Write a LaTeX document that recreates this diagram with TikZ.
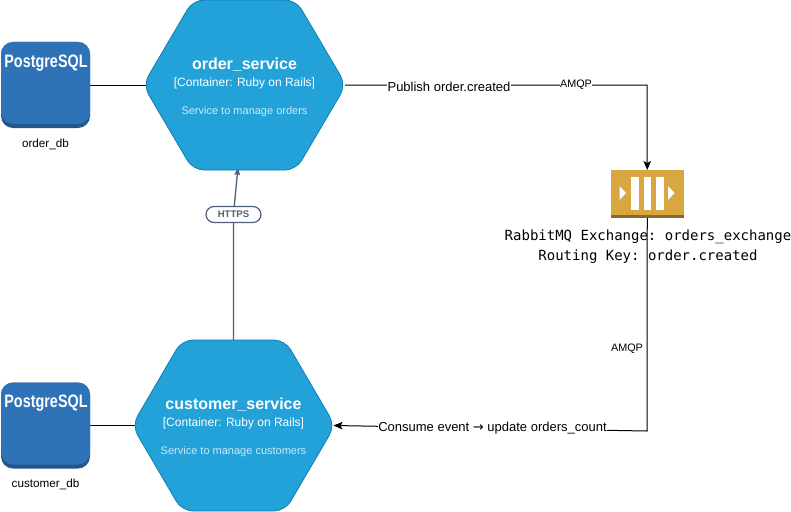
\documentclass[tikz,border=0pt]{standalone}
\usepackage{fontspec}
\setmainfont{Liberation Sans}
\setmonofont{DejaVu Sans Mono}
\newfontfamily\arrowfont{DejaVu Sans}
\usetikzlibrary{arrows.meta}
\definecolor{hexfill}{HTML}{23A2D9}
\definecolor{hexline}{HTML}{0E7DAD}
\definecolor{pgblue}{HTML}{2E73B8}
\definecolor{pgdark}{HTML}{23568A}
\definecolor{qgold}{HTML}{D9A741}
\definecolor{qdark}{HTML}{876929}
\definecolor{qbar}{HTML}{FFFFFF}
\definecolor{slateline}{HTML}{4D5F7A}
\definecolor{desctext}{HTML}{CCE8F5}
\tikzset{
  x=1pt,y=-1pt,
  hexanchor/.style={minimum width=197pt,minimum height=170pt,inner sep=0pt,outer sep=0pt},
  hexshape/.style={fill=hexfill,draw=hexline,line width=.8pt,rounded corners=11pt},
  hextitle/.style={text=white,font=\fontsize{16}{18}\selectfont\bfseries,inner sep=0pt},
  hexsub/.style={text=white,font=\fontsize{12}{14}\selectfont,inner sep=0pt},
  hexdesc/.style={text=desctext,font=\fontsize{11}{14}\selectfont,inner sep=0pt},
  pgbox/.style={minimum width=89pt,minimum height=86pt,inner sep=0pt,outer sep=0pt},
  pgtext/.style={text=white,font=\fontsize{18}{20}\selectfont\bfseries,inner sep=0pt},
  caption/.style={font=\fontsize{11.7}{14}\selectfont,inner sep=0pt},
  link/.style={draw=black,line width=1pt},
  arrowlink/.style={link,-{Stealth[length=9pt,width=7.5pt,inset=2pt]}},
  edgelabel/.style={fill=white,font=\fontsize{13}{15}\selectfont,inner sep=0.5pt},
  smalllabel/.style={fill=white,font=\fontsize{10.8}{12}\selectfont,inner sep=0.5pt},
  monotext/.style={font=\fontsize{14}{20}\selectfont\ttfamily,align=center,inner sep=0pt},
  pill/.style={draw=slateline,fill=white,line width=1.2pt,rounded corners=8pt,minimum width=55pt,minimum height=16pt,inner sep=0pt,text=slateline,font=\fontsize{9.6}{11}\selectfont\bfseries},
}
\newcommand{\hexpath}[1]{%
  ([xshift=-3pt]#1.west) -- ([xshift=47pt]#1.north west) -- ([xshift=-47pt]#1.north east) -- ([xshift=3pt]#1.east) -- ([xshift=-47pt]#1.south east) -- ([xshift=47pt]#1.south west) -- cycle}
\newcommand{\pgpath}[1]{%
  \fill[pgdark,rounded corners=12pt] (#1.south west) rectangle (#1.north east);
  \fill[pgblue,rounded corners=12pt] ([yshift=4pt]#1.south west) rectangle (#1.north east);}
\begin{document}
\begin{tikzpicture}
\useasboundingbox (0,0) rectangle (791,511);
\fill[white] (0,0) rectangle (791,511);

% anchors
\node[hexanchor] (order) at (244.5,85) {};
\node[hexanchor,minimum height=171pt] (customer) at (233.5,425.5) {};
\node[pgbox] (orderdb) at (45.5,85) {};
\node[pgbox] (customerdb) at (45.5,425.5) {};
\node[minimum width=73.5pt,minimum height=48pt,inner sep=0pt,outer sep=0pt] (queue) at (647.25,194) {};
\coordinate (pubturn) at (647,85);
\coordinate (conturn) at (647,431);
\coordinate (httpsbend) at (233.5,214);

% connectors
\draw[link] (orderdb.east) -- (order.west);
\draw[link] (customerdb.east) -- (customer.west);
\draw[arrowlink] ([xshift=2pt]order.east) -- (pubturn) -- (queue.north);
\draw[arrowlink] (queue.south) -- (conturn) -- ([xshift=1.5pt]customer.east);
\draw[draw=slateline,line width=1.3pt,-{Stealth[length=8pt,width=5.5pt,inset=1pt]}] (customer.north) -- (httpsbend) -- ([xshift=-6.5pt,yshift=3pt]order.south);

% hexagons
\draw[hexshape] \hexpath{order};
\draw[hexshape] \hexpath{customer};
\node[hextitle] (ordertitle) at (244.5,65) {order\_service};
\node[hexsub] (ordersub) at (244.5,83) {[Container: Ruby on Rails]};
\node[hexdesc] (orderdesc) at (244.5,111.5) {Service to manage orders};
\node[hextitle] (custtitle) at (233.5,405) {customer\_service};
\node[hexsub] (custsub) at (233.5,423) {[Container: Ruby on Rails]};
\node[hexdesc] (custdesc) at (233.5,451.5) {Service to manage customers};

% databases
\pgpath{orderdb}
\pgpath{customerdb}
\node[pgtext] (orderpg) at (46,63) {\scalebox{.8}[1]{PostgreSQL}};
\node[pgtext] (custpg) at (46,403) {\scalebox{.8}[1]{PostgreSQL}};
\node[caption] (orderdbl) at (45.5,144) {order\_db};
\node[caption] (customerdbl) at (45.5,484) {customer\_db};

% queue icon
\fill[qgold] (queue.north west) rectangle (queue.south east);
\fill[qdark] ([yshift=3pt]queue.south west) rectangle (queue.south east);
\foreach \bx in {631,643.5,656}
  \fill[qbar] (\bx,176.5) rectangle +(7.5,33.5);
\fill[qbar] (619.5,186) -- (626,193) -- (619.5,200) -- cycle;
\fill[qbar] (668,186) -- (674.5,193) -- (668,200) -- cycle;

% labels
\node[edgelabel] (publabel) at (449,87) {Publish order.created};
\node[smalllabel] (amqpa) at (576,85) {AMQP};
\node[smalllabel] (amqpb) at (627,349) {AMQP};
\node[edgelabel] (conlabel) at (492.5,428) {Consume event {\arrowfont →} update orders\_count};
\node[pill] (https) at (233.5,214.5) {HTTPS};
\node[monotext] (rabbit) at (648,246.5) {RabbitMQ Exchange: orders\_exchange\\Routing Key: order.created};
\end{tikzpicture}
\end{document}
